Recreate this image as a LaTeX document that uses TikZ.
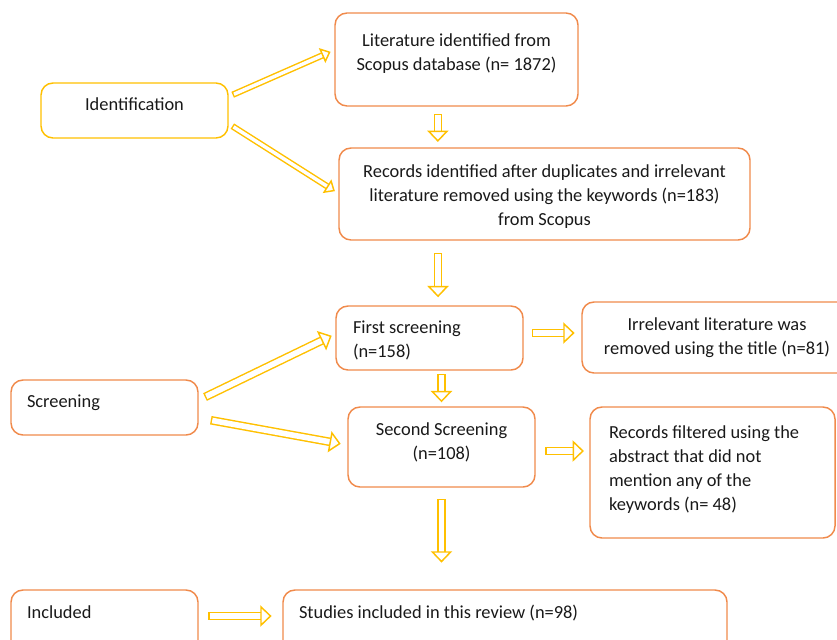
\documentclass[tikz,border=0pt]{standalone}
\usepackage{fontspec}
\setmainfont{Carlito}
\usetikzlibrary{arrows.meta}

\definecolor{boxorange}{HTML}{F08A4B}
\definecolor{arrowyellow}{HTML}{FFC000}

\tikzset{
  stage/.style={draw=boxorange, line width=1.1pt, rounded corners=9pt,
    inner ysep=2pt, font=\fontsize{13.8pt}{18pt}\selectfont, text=black!90},
  phase/.style={stage, minimum width=140.25pt, minimum height=41.25pt,
    text width=116.25pt, inner xsep=12pt, align=flush left},
  sink/.style={text height=9pt, text depth=#1},
  lift/.style={text height=#1, text depth=3pt},
  flow/.style={draw=arrowyellow, double=white, double distance=4.2pt, line width=1.1pt, line cap=rect,
    -{Triangle[open, fill=white, length=8.5pt, width=16pt, line width=1.1pt]},
    shorten <=6.4pt, shorten >=3pt},
  slimflow/.style={flow, double distance=2.6pt,
    -{Triangle[open, fill=white, length=7pt, width=12pt, line width=1.1pt]}, shorten <=5.6pt}
}

\begin{document}
\begin{tikzpicture}[x=0.75pt, y=-0.75pt]
    \useasboundingbox (0,0) rectangle (837,639);
    \clip (0,0) rectangle (837,639);

    % phases on the left
    \node[phase, draw=arrowyellow, align=center, sink=9pt] (ident) at (134.5,110.5) {Identification};
    \node[phase, sink=9pt] (screen) at (104.5,407.5) {Screening};
    \node[phase, minimum height=56.25pt, sink=23pt] (incl) at (104.5,627.5) {Included};

    % identification
    \node[stage, minimum width=182.25pt, minimum height=69.75pt, align=center, lift=20pt] (lit) at (456.5,59.5)
        {Literature identified from\\Scopus database (n= 1872)};
    \node[stage, minimum width=308.25pt, minimum height=69pt, align=center, lift=50.8pt] (rec) at (544.5,194)
        {Records identified after duplicates and irrelevant\\literature removed using the keywords (n=183)\\from Scopus};

    % screening
    \node[stage, minimum width=140.25pt, minimum height=48pt, text width=114.75pt, inner xsep=12.75pt,
        align=flush left, sink=16pt] (first) at (429.5,338) {First screening\\(n=158)};
    \node[stage, minimum width=202.5pt, minimum height=53.25pt, align=center] (irr) at (717,337.5)
        {Irrelevant literature was\\removed using the title (n=81)};
    \node[stage, minimum width=140.25pt, minimum height=60pt, align=center, lift=22.3pt] (second) at (441.5,447)
        {Second Screening\\(n=108)};
    \node[stage, minimum width=183.75pt, minimum height=98.25pt, text width=155.25pt, inner xsep=14.25pt,
        align=flush left, sink=60pt] (filt) at (712.5,472.5)
        {Records filtered using the\\abstract that did not\\mention any of the\\keywords (n= 48)};

    % included
    \node[stage, minimum width=333pt, minimum height=56.25pt, text width=309pt, inner xsep=12pt,
        align=flush left, sink=23pt] (study) at (505,627.5) {Studies included in this review (n=98)};

    % arrows
    \draw[slimflow] ([yshift=10.5pt]ident.east) -- ([yshift=7pt]lit.west);
    \draw[slimflow] ([yshift=-10pt]ident.east) -- ([yshift=0.5pt]rec.west);
    \draw[flow, shorten <=8.4pt, shorten >=4pt] ([xshift=-14pt]lit.south) -- ([xshift=-14pt]lit.south |- rec.north);
    \draw[flow, shorten <=12.4pt, shorten >=6pt] ([xshift=6.4pt]first.north |- rec.south) -- ([xshift=6.4pt]first.north);
    \draw[flow, shorten <=9.4pt, shorten >=5pt] ([yshift=3.75pt]first.east) -- ([yshift=3.75pt]first.east -| irr.west);
    \draw[flow, shorten <=5.4pt] (second.north |- first.south) -- (second.north);
    \draw[flow, shorten <=8.4pt] ([yshift=5.6pt]screen.east) -- ([yshift=3pt]first.west);
    \draw[flow, shorten <=12.4pt, shorten >=5pt] ([yshift=-7.9pt]screen.east) -- ([yshift=1.5pt]second.west);
    \draw[flow, shorten <=10.4pt, shorten >=4pt] ([yshift=-3pt]second.east) -- ([yshift=-3pt]second.east -| filt.west);
    \draw[flow, shorten <=11.4pt, shorten >=20pt] (second.south) -- (second.south |- study.north);
    \draw[flow, shorten <=10.4pt, shorten >=8pt] ([yshift=8.6pt]incl.east) -- ([yshift=8.6pt]incl.east -| study.west);
\end{tikzpicture}
\end{document}
